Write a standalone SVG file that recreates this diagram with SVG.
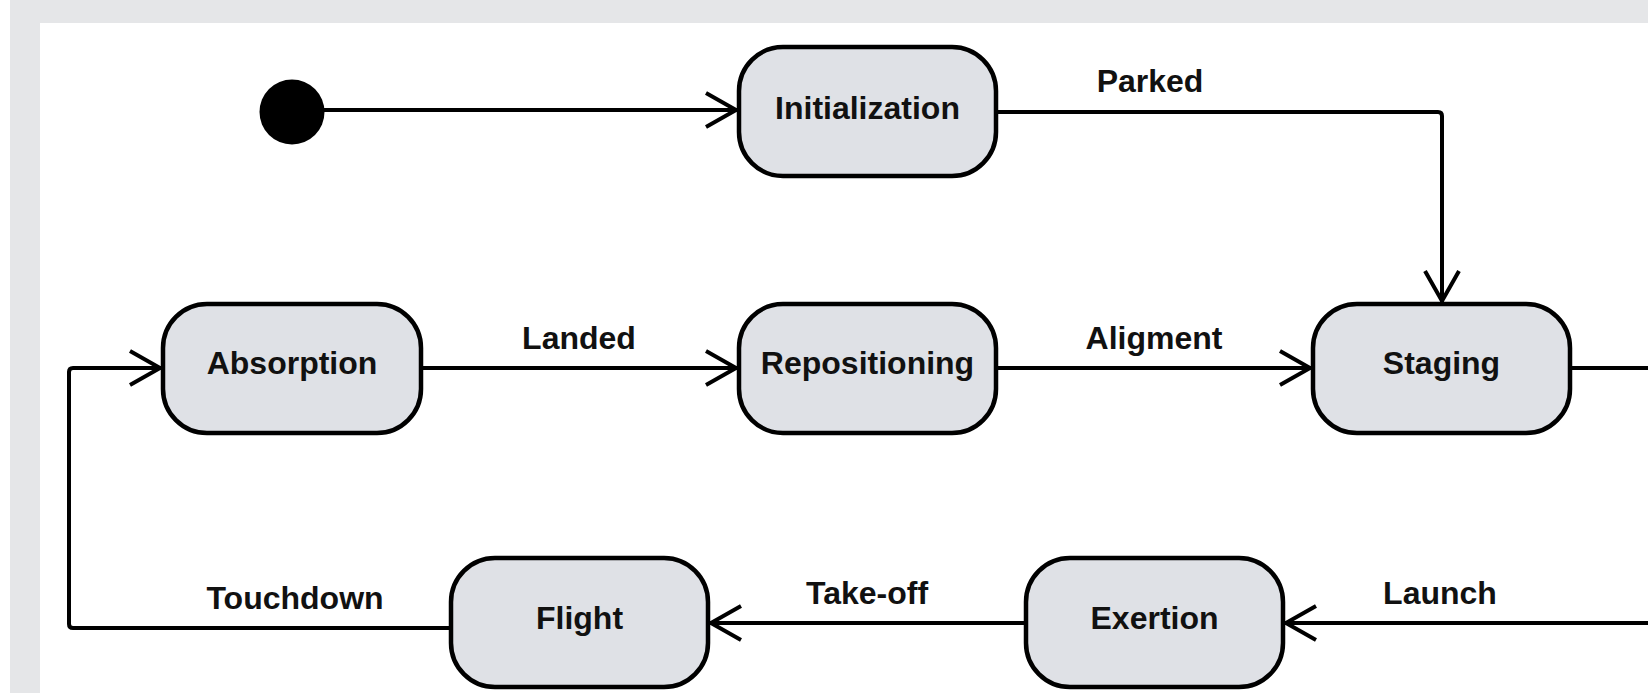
<svg xmlns="http://www.w3.org/2000/svg" width="1648" height="693" viewBox="0 0 1648 693">
<style>
.node rect{fill:#dfe1e6;stroke:#000;stroke-width:4.5}
.node text{font-family:"Liberation Sans",Arial,sans-serif;font-weight:bold;font-size:32px;fill:#111;text-anchor:middle}
.lbl{font-family:"Liberation Sans",Arial,sans-serif;font-weight:bold;font-size:32px;fill:#111;text-anchor:middle}
.edge{fill:none;stroke:#000;stroke-width:4;stroke-linejoin:round}
</style>
<defs>
<marker id="arr" markerUnits="userSpaceOnUse" markerWidth="44" markerHeight="44" viewBox="-40 -22 44 44" refX="0" refY="0" orient="auto" overflow="visible">
<path d="M-31,-17 L-1,0 L-31,17" fill="none" stroke="#000" stroke-width="4" stroke-linejoin="miter"/>
</marker>
</defs>
<rect x="0" y="0" width="1648" height="693" fill="#ffffff"/>
<rect x="10" y="0" width="1638" height="693" fill="#e5e6e8"/>
<rect x="40" y="23" width="1608" height="670" fill="#ffffff"/>

<g id="connectors">
<path class="edge" d="M320,110 L737,110" marker-end="url(#arr)"/>
<path class="edge" d="M996,112 L1438,112 Q1442,112 1442,116 L1442,302" marker-end="url(#arr)"/>
<path class="edge" d="M421,368 L737,368" marker-end="url(#arr)"/>
<path class="edge" d="M996,368 L1311,368" marker-end="url(#arr)"/>
<path class="edge" d="M1571,368 L1648,368"/>
<path class="edge" d="M1648,623 L1285,623" marker-end="url(#arr)"/>
<path class="edge" d="M1025,623 L710,623" marker-end="url(#arr)"/>
<path class="edge" d="M450,628 L73,628 Q69,628 69,624 L69,372 Q69,368 73,368 L161,368" marker-end="url(#arr)"/>
<text class="lbl" x="1150" y="92">Parked</text>
<text class="lbl" x="579" y="349">Landed</text>
<text class="lbl" x="1154" y="349">Aligment</text>
<text class="lbl" x="295" y="609">Touchdown</text>
<text class="lbl" x="867" y="604">Take-off</text>
<text class="lbl" x="1440" y="604">Launch</text>
</g>

<g id="start"><circle cx="292" cy="112" r="32.5" fill="#000"/></g>
<g id="initialization" class="node"><rect x="739" y="47" width="257" height="129" rx="44"/><text x="867.5" y="119">Initialization</text></g>
<g id="absorption" class="node"><rect x="163" y="304" width="258" height="129" rx="44"/><text x="292" y="374">Absorption</text></g>
<g id="repositioning" class="node"><rect x="739" y="304" width="257" height="129" rx="44"/><text x="867.5" y="374">Repositioning</text></g>
<g id="staging" class="node"><rect x="1313" y="304" width="257" height="129" rx="44"/><text x="1441.5" y="374">Staging</text></g>
<g id="flight" class="node"><rect x="451" y="558" width="257" height="129" rx="44"/><text x="579.5" y="629">Flight</text></g>
<g id="exertion" class="node"><rect x="1026" y="558" width="257" height="129" rx="44"/><text x="1154.5" y="629">Exertion</text></g>
</svg>
